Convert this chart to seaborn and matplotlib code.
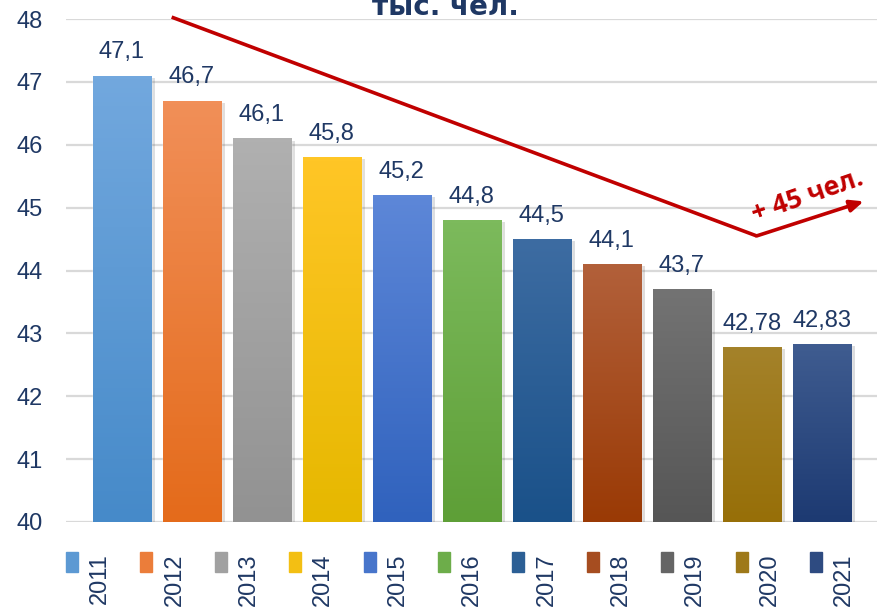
import numpy as np
import pandas as pd
import matplotlib
matplotlib.use("Agg")
import matplotlib.pyplot as plt
import matplotlib.patheffects as pe
from matplotlib.patches import Rectangle
from matplotlib.colors import LinearSegmentedColormap
import seaborn as sns

years = ["2011", "2012", "2013", "2014", "2015", "2016", "2017", "2018", "2019", "2020", "2021"]
values = [47.1, 46.7, 46.1, 45.8, 45.2, 44.8, 44.5, 44.1, 43.7, 42.78, 42.83]
top_colors = ["#72a8de", "#f18f58", "#b0b0b0", "#ffc626", "#5d87d8", "#7cba5c",
              "#3d6ca2", "#b2603a", "#737373", "#a4822a", "#3f5c90"]
bottom_colors = ["#468ac9", "#e46b1b", "#929292", "#e6b800", "#3062bd", "#5e9f37",
                 "#1a5189", "#9a3a05", "#565656", "#976f08", "#1d3a72"]
y_ticks = [40, 41, 42, 43, 44, 45, 46, 47, 48]
title = "тыс. чел."
note = "+ 45 чел."

navy = "#1f3864"
red = "#c00000"

sns.set_style("white")
plt.rcParams["font.family"] = ["Liberation Sans", "DejaVu Sans"]

W, H = 881, 607
fig = plt.figure(figsize=(W / 100, H / 100), dpi=100)
ax = fig.add_axes([66 / W, 1 - 522 / H, (877 - 66) / W, (522 - 19) / H])

df = pd.DataFrame({"year": years, "value": values})
mid_colors = [tuple((np.array(matplotlib.colors.to_rgb(a)) + np.array(matplotlib.colors.to_rgb(b))) / 2)
              for a, b in zip(top_colors, bottom_colors)]
sns.barplot(data=df, x="year", y="value", hue="year", palette=mid_colors,
            width=0.83, legend=False, ax=ax, zorder=2)

ax.set_ylim(40, 48)
ax.set_xlim(-0.8, 10.79)

bars = sorted([p for p in ax.patches if isinstance(p, Rectangle)], key=lambda p: p.get_x())
labels = [f"{v:g}".replace(".", ",") for v in values]

# gradient fill + soft shadow + value label
for patch, c1, c2, lab in zip(bars, top_colors, bottom_colors, labels):
    x0 = patch.get_x()
    w = patch.get_width()
    h = patch.get_height()
    patch.set_path_effects([pe.SimplePatchShadow(offset=(3, -1.5), alpha=0.15, rho=0.3), pe.Normal()])
    cmap = LinearSegmentedColormap.from_list("g", [c2, c1])
    grad = np.linspace(0, 1, 100).reshape(-1, 1)
    im = ax.imshow(grad, cmap=cmap, aspect="auto", origin="lower",
                   extent=(x0, x0 + w, 40, h), zorder=3)
    im.set_clip_path(patch)
    ax.annotate(lab, (x0 + w / 2, h), xytext=(0, 9), textcoords="offset points",
                ha="center", va="bottom", fontsize=17, color=navy, zorder=4)

ax.set_yticks(y_ticks)
ax.set_yticklabels([str(t) for t in y_ticks], fontsize=17, color=navy)
ax.tick_params(axis="y", length=0, pad=17)
ax.set_xticks([])
ax.set_xlabel("")
ax.set_ylabel("")
ax.yaxis.grid(True, color="#d9d9d9", lw=1.6, zorder=0)
ax.set_axisbelow(True)
for s in ax.spines.values():
    s.set_visible(False)

# trend arrow
ax.plot([0.71, 9.07], [48.03, 44.55], color=red, lw=2.6, solid_capstyle="butt", zorder=5, clip_on=False)
ax.annotate("", xy=(10.6, 45.1), xytext=(9.07, 44.55),
            arrowprops=dict(arrowstyle="-|>,head_length=0.8,head_width=0.35", color=red, lw=2.6,
                            shrinkA=0, shrinkB=0),
            zorder=5, annotation_clip=False)
ax.text(9.8, 45.18, note, rotation=19, color=red, fontsize=19, fontweight="bold",
        ha="center", va="center", zorder=6, family=["Open Sans", "DejaVu Sans"])

# title, clipped at the top edge as in the source
fig.text(445 / W, 1 - 15 / H, title, ha="center", va="baseline", fontsize=20,
         fontweight="bold", color=navy, family=["DejaVu Sans"])

# legend
for i, (yr, c1, c2) in enumerate(zip(years, top_colors, bottom_colors)):
    lx = 66 + 74.4 * i
    fig.add_artist(Rectangle((lx / W, 1 - 572 / H), 12 / W, 20 / H, transform=fig.transFigure,
                             color=mid_colors[i]))
    fig.text((lx + 34) / W, 1 - 553 / H, yr, rotation=90, ha="center", va="top",
             fontsize=17, color=navy)

fig.savefig("out.png", dpi=100)
